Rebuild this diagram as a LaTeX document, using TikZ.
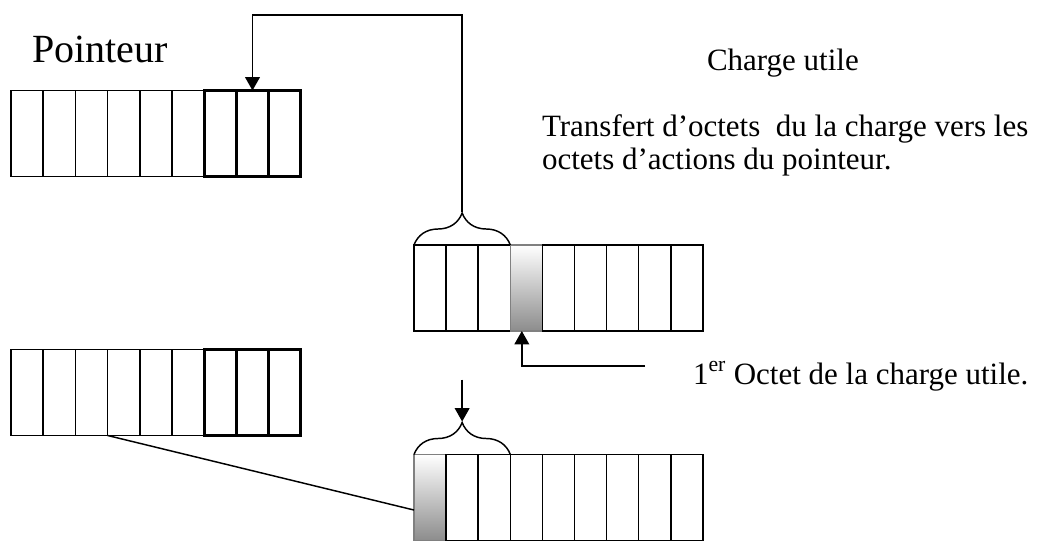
\documentclass[tikz,border=0pt]{standalone}
\usepackage{fontspec}
\setmainfont{Liberation Serif}
\usetikzlibrary{arrows.meta,decorations.pathreplacing,calc}

\begin{document}
\begin{tikzpicture}
[x=0.75pt,y=-0.75pt,
every node/.style={inner sep=0pt,outer sep=0pt},
cell/.style={draw,line width=1.1pt,minimum width=24.1pt,minimum height=64.5pt},
ptrcell/.style={cell,line width=2.3pt},
firstbyte/.style={cell,draw=black!50,top color=white,bottom color=black!45},
brc/.style={decorate,decoration={brace,amplitude=24pt},line width=1.1pt},
link/.style={line width=1.1pt},
arr/.style={link,-{Triangle[length=10pt,width=11pt]}},
txt/.style={anchor=base west,font=\fontsize{23.25}{28}\selectfont}]
\useasboundingbox (0,0) rectangle (1039,553);
% pointeur, avant et apres
\foreach \i/\st in {1/cell,2/cell,3/cell,4/cell,5/cell,6/cell,7/ptrcell,8/ptrcell,9/ptrcell}
{
\node[\st] (pa\i) at ({11+32.2*(\i-0.5)},133.5) {};
\node[\st] (pb\i) at ({11+32.2*(\i-0.5)},392.5) {};
}
% charge utile
\foreach \i/\st in {1/cell,2/cell,3/cell,4/firstbyte,5/cell,6/cell,7/cell,8/cell,9/cell}
\node[\st] (ca\i) at ({414+32.1*(\i-0.5)},288) {};
\foreach \i/\st in {1/firstbyte,2/cell,3/cell,4/cell,5/cell,6/cell,7/cell,8/cell,9/cell}
\node[\st] (cb\i) at ({414+32.1*(\i-0.5)},497.5) {};
% textes
\node[txt,font=\fontsize{30}{35}\selectfont] (ptr) at (32,62) {Pointeur};
\node[txt] (charge) at (707,70) {Charge utile};
\node[txt] (transfert) at (542,136) {Transfert d’octets~ du la charge vers les};
\node[txt] (actions) at (542,169) {octets d’actions du pointeur.};
\node[txt] (premier) at (693,384) {1\textsuperscript{er} Octet de la charge utile.};
% accolades
\draw[brc] (ca1.north west) -- (ca3.north east);
\draw[brc] (cb1.north west) -- (cb3.north east);
\path (ca2.north) ++(0,-33) coordinate (tipa);
\path (cb2.north) ++(0,-33) coordinate (tipb);
\path (tipb) ++(0,-42) coordinate (downstart);
\coordinate (topline) at (0,15);
\coordinate (octend) at (645,366);
% fleches
\draw[arr] (tipa) -- (tipa |- topline) -- (pa8.north |- topline) -- (pa8.north);
\draw[arr] (octend) -| ([xshift=-3.4pt]ca4.south);
\draw[arr] (downstart) -- (tipb);
\draw[link] (pb4.south west) -- ([yshift=-9.4pt]cb1.west);
\end{tikzpicture}
\end{document}
